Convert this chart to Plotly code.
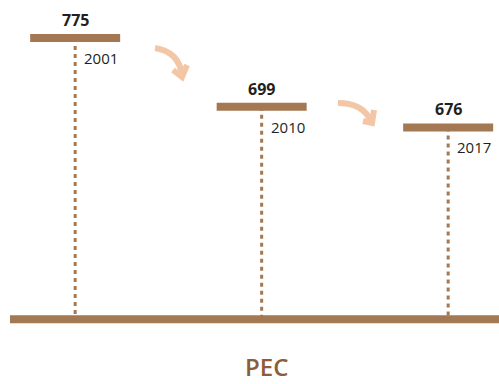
import plotly.graph_objects as go

# Data
years = ["2001", "2010", "2017"]
values = [775, 699, 676]
title = "PEC"

# Styling
W, H = 499, 384
BAR_COLOR = "#a37852"
TITLE_COLOR = "#8c5c3b"
ARROW_COLOR = "#f3c6a5"
TEXT_COLOR = "#231f20"
FONT = "Open Sans"
BASE = 464          # value where the floor line sits
HALF = 0.2413       # half width of each level bar, in slot units

xs = list(range(len(years)))

fig = go.Figure()

# dotted stems from each level down to the floor
for x, v in zip(xs, values):
    fig.add_trace(go.Scatter(
        x=[x, x], y=[v, BASE], mode="lines",
        line=dict(color=BAR_COLOR, width=3, dash="4px,4px"),
        hoverinfo="skip", showlegend=False))

# level bars
for x, v in zip(xs, values):
    fig.add_trace(go.Scatter(
        x=[x - HALF, x + HALF], y=[v, v], mode="lines",
        line=dict(color=BAR_COLOR, width=8),
        hoverinfo="skip", showlegend=False))

annotations = []
for x, v, yr in zip(xs, values, years):
    annotations.append(dict(
        x=x, y=v, xref="x", yref="y", text=f"<b>{v}</b>", showarrow=False,
        xanchor="center", yanchor="middle", yshift=18,
        font=dict(family=FONT, size=16, color=TEXT_COLOR)))
    annotations.append(dict(
        x=x, y=v, xref="x", yref="y", text=yr, showarrow=False,
        xanchor="left", yanchor="middle", xshift=7, yshift=-20,
        font=dict(family=FONT, size=15, color=TEXT_COLOR)))

annotations.append(dict(
    x=0.535, y=0, xref="paper", yref="paper", text=title,
    showarrow=False, xanchor="center", yanchor="bottom", borderpad=0,
    font=dict(family=FONT, size=24, color=TITLE_COLOR, weight=600)))


def px_path(cmds):
    """Build an SVG path in paper coordinates from pixel-space points."""
    out = []
    for c in cmds:
        if isinstance(c, str):
            out.append(c)
        else:
            out.append(f"{c[0] / W:.5f},{1 - c[1] / H:.5f}")
    return " ".join(out)


arrow_line = dict(color=ARROW_COLOR, width=6)
shapes = [
    # floor line
    dict(type="line", xref="paper", yref="y", x0=10 / W, x1=1, y0=BASE, y1=BASE,
         line=dict(color=BAR_COLOR, width=8), layer="above"),
    # first arrow
    dict(type="path", xref="paper", yref="paper",
         path=px_path(["M", (155, 48), "C", (168, 50), (180, 57), (182, 76)]),
         line=arrow_line),
    dict(type="path", xref="paper", yref="paper",
         path=px_path(["M", (173, 70), "L", (182, 77), "L", (187, 65)]),
         line=arrow_line),
    # second arrow
    dict(type="path", xref="paper", yref="paper",
         path=px_path(["M", (338, 103), "C", (352, 103), (365, 108), (371, 121)]),
         line=arrow_line),
    dict(type="path", xref="paper", yref="paper",
         path=px_path(["M", (363, 121), "L", (372, 123), "L", (374, 110)]),
         line=arrow_line),
]

fig.update_layout(
    width=W, height=H,
    margin=dict(l=0, r=0, t=0, b=0),
    paper_bgcolor="white", plot_bgcolor="white",
    xaxis=dict(range=[-0.4030, 2.2726], visible=False, fixedrange=True),
    yaxis=dict(range=[392.3, 817.0], visible=False, fixedrange=True),
    annotations=annotations,
    shapes=shapes,
    showlegend=False,
)

fig.write_html("out.html", config={"displayModeBar": False})
